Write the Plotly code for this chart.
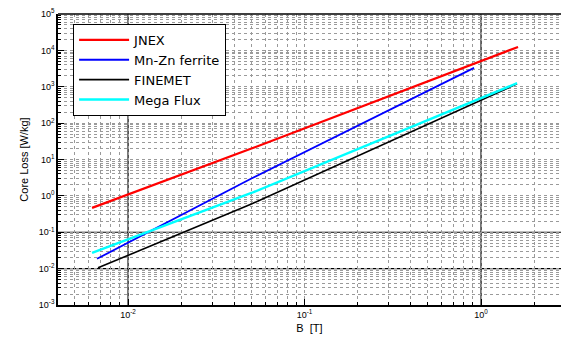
import plotly.graph_objects as go

# ---- data ----
series_names = ["JNEX", "Mn-Zn ferrite", "FINEMET", "Mega Flux"]
series_colors = ["#ff0000", "#0000ff", "#000000", "#00ffff"]
jnex_B = [0.00625, 0.05, 1.62]
jnex_P = [0.468, 20.0, 12400]
mnzn_B = [0.00667, 0.05, 0.913]
mnzn_P = [0.0186, 3.0, 3300]
finemet_B = [0.00676, 0.05, 1.6]
finemet_P = [0.0105, 0.6, 1200]
megaflux_B = [0.00625, 0.05, 1.6]
megaflux_P = [0.027, 1.2, 1250]

x_tickvals = [0.01, 0.1, 1]
x_ticktext = ["10<sup>-2</sup>", "10<sup>-1</sup>", "10<sup>0</sup>"]
y_tickvals = [1e-3, 1e-2, 1e-1, 1, 10, 100, 1e3, 1e4, 1e5]
y_ticktext = ["10<sup>-3</sup>", "10<sup>-2</sup>", "10<sup>-1</sup>", "10<sup>0</sup>",
              "10<sup>1</sup>", "10<sup>2</sup>", "10<sup>3</sup>", "10<sup>4</sup>", "10<sup>5</sup>"]

x_minor = [m * 10.0 ** e for e in range(-3, 1) for m in range(2, 10)]
y_minor = [m * 10.0 ** e for e in range(-3, 5) for m in range(2, 10)]

xs = [jnex_B, mnzn_B, finemet_B, megaflux_B]
ys = [jnex_P, mnzn_P, finemet_P, megaflux_P]
widths = [2.2, 1.8, 1.6, 2.4]

fig = go.Figure()
for name, c, x, y, w in zip(series_names, series_colors, xs, ys, widths):
    fig.add_trace(go.Scatter(x=x, y=y, mode="lines", name=name,
                             line=dict(color=c, width=w)))

FONT = "Liberation Sans, Arial, sans-serif"
GRIDC = "#9a9a9a"

fig.update_layout(
    width=561, height=347,
    margin=dict(l=58, r=0, t=14, b=42),
    paper_bgcolor="white", plot_bgcolor="white",
    font=dict(family=FONT, size=10, color="black"),
    showlegend=True,
    legend=dict(x=0.03, y=0.966, xanchor="left", yanchor="top",
                bgcolor="white", bordercolor="black", borderwidth=1,
                font=dict(family="DejaVu Sans, sans-serif", size=13, color="black"),
                tracegroupgap=0, itemwidth=50),
)
fig.update_xaxes(
    type="log", range=[-2.397, 0.453],
    tickvals=x_tickvals, ticktext=x_ticktext,
    showline=True, linecolor="black", linewidth=1.5, mirror=False,
    ticks="inside", ticklen=6, tickcolor="black",
    showgrid=True, gridcolor=GRIDC, griddash="dot", gridwidth=1,
    minor=dict(tickvals=x_minor, showgrid=True, gridcolor=GRIDC, griddash="dot", gridwidth=1,
               ticks="inside", ticklen=3, tickcolor="black"),
    title=dict(text="B  [T]", font=dict(family=FONT, size=11), standoff=6),
    tickfont=dict(size=9),
    zeroline=False,
)
fig.update_yaxes(
    type="log", range=[-3, 5],
    tickvals=y_tickvals, ticktext=y_ticktext,
    showline=True, linecolor="black", linewidth=1.5, mirror=False,
    ticks="inside", ticklen=6, tickcolor="black",
    showgrid=True, gridcolor=GRIDC, griddash="dot", gridwidth=1,
    minor=dict(tickvals=y_minor, showgrid=True, gridcolor=GRIDC, griddash="dot", gridwidth=1,
               ticks="inside", ticklen=3, tickcolor="black"),
    title=dict(text="Core Loss [W/kg]", font=dict(family=FONT, size=11), standoff=8),
    tickfont=dict(size=9),
    zeroline=False,
)
# frame top line and solid grid lines seen in the scan
fig.add_shape(type="line", xref="paper", yref="paper", x0=0, x1=1, y0=1, y1=1,
              line=dict(color="black", width=1.5))
for xv in [0.01, 1]:
    fig.add_shape(type="line", xref="x", yref="paper", x0=xv, x1=xv, y0=0, y1=1,
                  line=dict(color="black", width=1.2), layer="below")
for yv in [0.1, 0.01]:
    fig.add_shape(type="line", xref="paper", yref="y", x0=0, x1=1, y0=yv, y1=yv,
                  line=dict(color="black", width=1.2), layer="below")

fig.write_html("out.html")
